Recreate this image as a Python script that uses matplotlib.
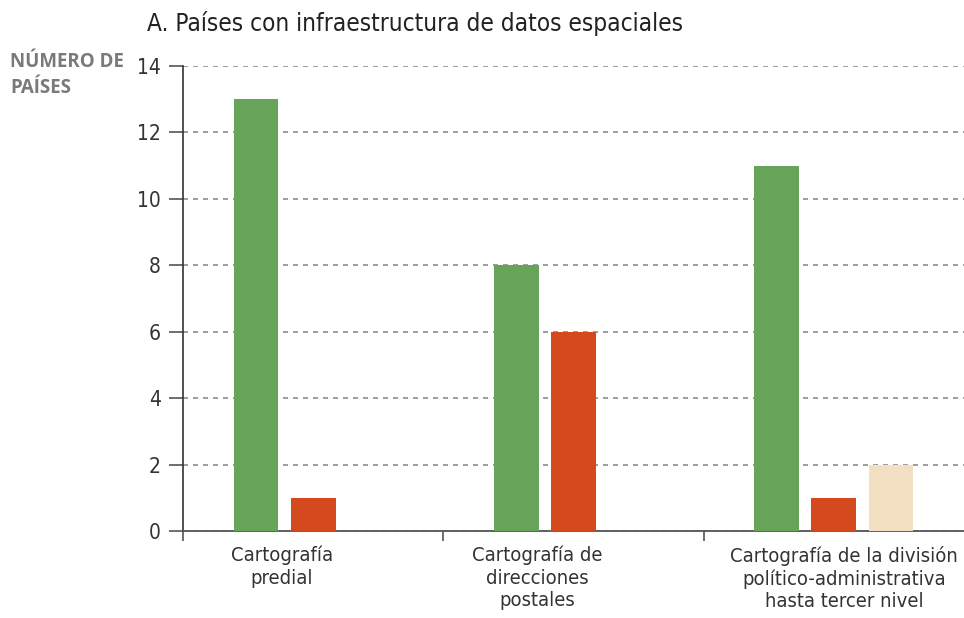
import matplotlib
matplotlib.use("Agg")
from matplotlib import pyplot as plt
import numpy as np

# data
categories = ["Cartografía\npredial",
              "Cartografía de\ndirecciones\npostales",
              "Cartografía de la división\npolítico-administrativa\nhasta tercer nivel"]
serie_verde = [13, 8, 11]
serie_roja = [1, 6, 1]
serie_beige = [0, 0, 2]
yticks = [0, 2, 4, 6, 8, 10, 12, 14]

narrow = dict(family="DejaVu Sans", stretch="condensed")

fig = plt.figure(figsize=(9.64, 6.18), dpi=100)
ax = fig.add_axes([183 / 964, 87 / 618, 781 / 964, 465 / 618])

x = np.arange(len(categories)) + 0.5
w = 0.172
ax.bar(x - 0.22, serie_verde, w, color="#67a459", zorder=3)
ax.bar(x, serie_roja, w, color="#d5491f", zorder=3)
# only the third group has a beige bar
ax.bar(x[2:] + 0.22, serie_beige[2:], w, color="#f3dfc2", zorder=3)

ax.set_xlim(0, 3)
ax.set_ylim(0, 14)
ax.set_yticks(yticks)
ax.set_yticklabels([str(v) for v in yticks], fontsize=15, color="#333333", **narrow)
ax.yaxis.grid(True, linestyle=(0, (3, 3)), color="#8c8c8c", linewidth=1.2, zorder=0)
ax.set_axisbelow(True)

ax.set_xticks([0, 1, 2])
ax.set_xticklabels([])
ax.tick_params(axis="x", direction="out", length=7, color="#555555", width=1.2)
ax.tick_params(axis="y", direction="out", length=10, color="#555555", width=1.2, pad=6)

for s in ["top", "right"]:
    ax.spines[s].set_visible(False)
ax.spines["left"].set_color("#333333")
ax.spines["bottom"].set_color("#555555")
ax.spines["left"].set_linewidth(1.2)
ax.spines["bottom"].set_linewidth(1.3)

label_x = [0.38, 1.36, 2.54]
for lx, lab in zip(label_x, categories):
    ax.text(lx, -0.45, lab, ha="center", va="top", fontsize=14.5,
            color="#333333", linespacing=1.22, **narrow)

fig.text(147 / 964, 1 - 23 / 618, "A. Países con infraestructura de datos espaciales",
         ha="left", va="center", fontsize=17.5, color="#222222", **narrow)
fig.text(10 / 964, 1 - 75 / 618, "NÚMERO DE\nPAÍSES", ha="left", va="center",
         fontsize=13.5, fontweight="bold", color="#7a7a7a", linespacing=1.35,
         family=["Open Sans", "DejaVu Sans"])

fig.savefig("out.png", dpi=100)
